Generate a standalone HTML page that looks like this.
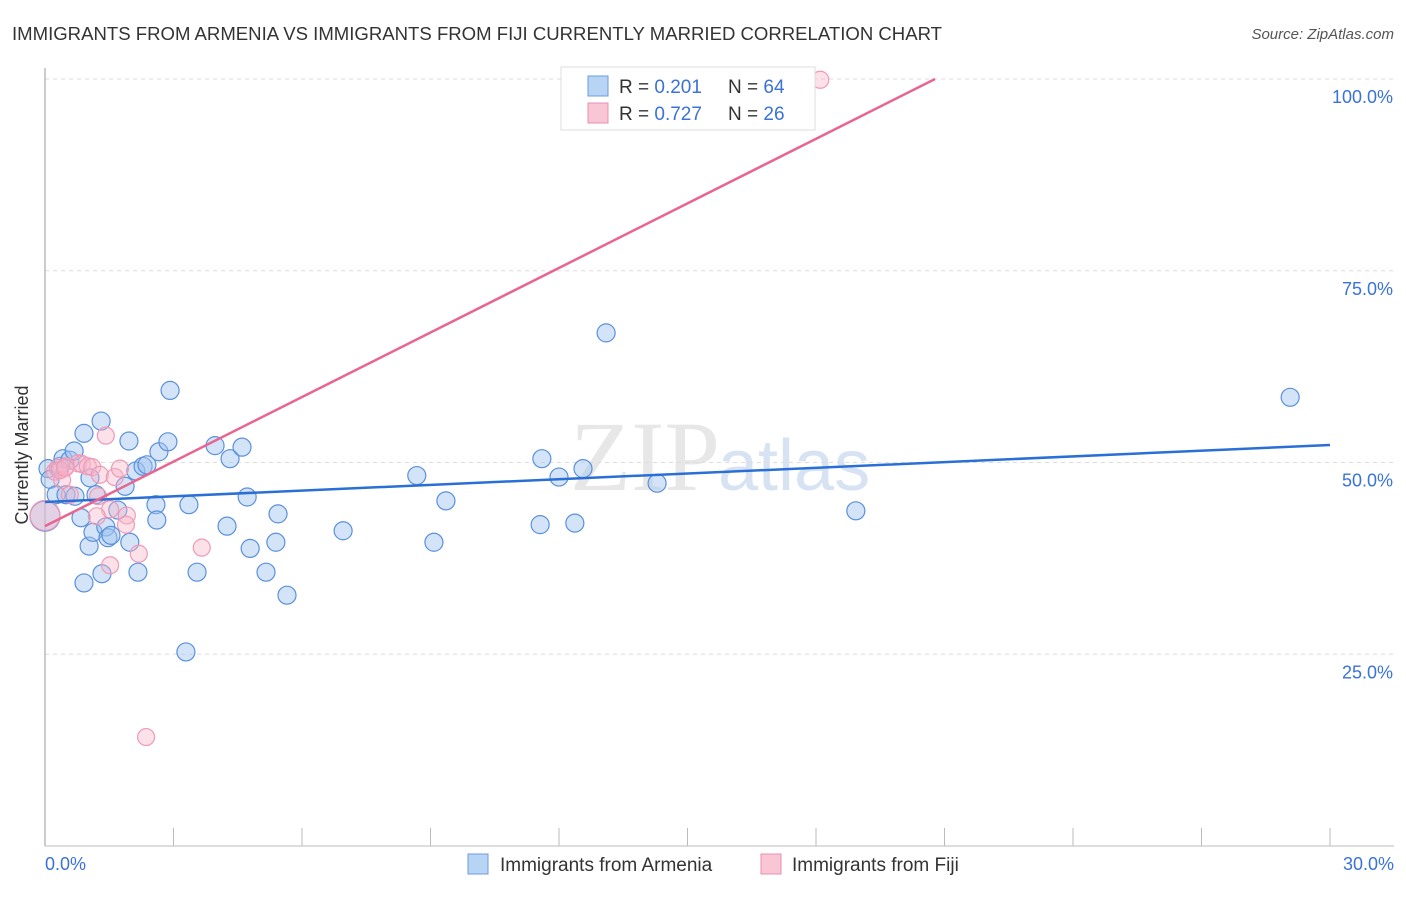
<!DOCTYPE html>
<html><head><meta charset="utf-8"><style>
body{margin:0;background:#fff;font-family:"Liberation Sans",sans-serif;}
</style></head><body>
<svg width="1406" height="892" xmlns="http://www.w3.org/2000/svg">
<text x="12" y="40" font-size="18" fill="#333" textLength="930" lengthAdjust="spacingAndGlyphs">IMMIGRANTS FROM ARMENIA VS IMMIGRANTS FROM FIJI CURRENTLY MARRIED CORRELATION CHART</text>
<text x="1394" y="39" font-size="15" fill="#555" font-style="italic" text-anchor="end">Source: ZipAtlas.com</text>
<text x="720" y="490" font-size="100" fill="#d8d8d8" font-family="Liberation Serif" text-anchor="end" opacity="0.6">ZIP</text>
<text x="718" y="490" font-size="72" fill="#b8cdea" opacity="0.55">atlas</text>
<g id="grid"></g>
<line x1="45" y1="68" x2="45" y2="846" stroke="#bbb" stroke-width="1.5"/>
<line x1="45" y1="846" x2="1394" y2="846" stroke="#bbb" stroke-width="1"/>
<g id="ticks"></g>
<g id="pts"></g>
<g id="lines"></g>
<text x="28" y="455" font-size="18" fill="#333" text-anchor="middle" transform="rotate(-90 28 455)">Currently Married</text>
<text x="45" y="870" font-size="18" fill="#3a72d8">0.0%</text>
<text x="1394" y="870" font-size="18" fill="#3a72d8" text-anchor="end">30.0%</text>
<g>
<rect x="561" y="67" width="254" height="63" fill="#fff" stroke="#ddd"/>
<rect x="588" y="76" width="20" height="20" fill="#b8d4f5" stroke="#6a9de0"/>
<rect x="588" y="103" width="20" height="20" fill="#f9c6d6" stroke="#e890ae"/>
<text x="619" y="93" font-size="19" fill="#333">R = <tspan fill="#3a72d8">0.201</tspan></text>
<text x="728" y="93" font-size="19" fill="#333">N = <tspan fill="#3a72d8">64</tspan></text>
<text x="619" y="120" font-size="19" fill="#333">R = <tspan fill="#3a72d8">0.727</tspan></text>
<text x="728" y="120" font-size="19" fill="#333">N = <tspan fill="#3a72d8">26</tspan></text>
</g>
<g>
<rect x="468" y="854" width="20" height="20" fill="#b8d4f5" stroke="#6a9de0"/>
<text x="500" y="871" font-size="19" fill="#333">Immigrants from Armenia</text>
<rect x="761" y="854" width="20" height="20" fill="#f9c6d6" stroke="#e890ae"/>
<text x="792" y="871" font-size="19" fill="#333">Immigrants from Fiji</text>
</g>
</svg>
<script>
const yTicks=[25,50,75,100];
const xTickCount=10;
const armeniaX=[0.07,0.12,0.26,0.35,0.42,0.49,0.58,0.68,0.7,0.84,0.91,1.03,1.05,1.12,1.19,1.31,1.33,0.91,1.42,1.47,1.54,1.7,1.87,1.96,1.98,2.12,2.17,2.29,2.38,2.59,2.61,2.66,2.87,2.92,3.29,3.36,3.55,3.97,4.25,4.32,4.6,4.72,4.79,5.16,5.39,5.44,5.65,6.96,8.68,9.08,9.36,11.56,11.6,12.0,12.37,12.56,13.1,14.29,18.93,29.07,0.0];
const armeniaY=[49.2,47.8,45.8,49.5,50.5,45.8,50.3,51.5,45.6,42.8,53.8,39.1,48.0,40.9,45.8,55.4,35.5,34.3,41.6,40.2,40.5,43.8,46.9,52.8,39.6,48.9,35.7,49.5,49.7,44.5,42.5,51.4,52.7,59.4,25.3,44.5,35.7,52.2,41.7,50.5,52.0,45.5,38.8,35.7,39.6,43.3,32.7,41.1,48.3,39.6,45.0,41.9,50.5,48.1,42.1,49.2,66.9,47.3,43.7,58.5,43.0];
const fijiX=[18.1,0.23,0.3,0.4,0.49,0.58,0.77,0.86,1.0,1.1,1.24,1.28,1.42,1.52,1.63,1.75,1.91,1.89,2.19,2.36,3.66,1.21,1.52,0.0,0.35,0.47];
const fijiY=[99.9,48.8,49.3,47.7,49.5,45.8,49.9,49.8,49.5,49.4,45.6,48.4,53.5,43.9,48.1,49.2,43.1,41.9,38.1,14.2,38.9,43.0,36.6,43.1,49.0,49.3];
const armeniaLine=[44.85,52.28];
const fijiLine=[41.7,100,20.78];
const X=v=>45+v/30*1285, Y=v=>846-v/100*767;
const NS="http://www.w3.org/2000/svg";
function mk(t,a,p){const e=document.createElementNS(NS,t);for(const k in a)e.setAttribute(k,a[k]);document.getElementById(p).appendChild(e);return e;}
yTicks.forEach(t=>{
 const l=mk('line',{x1:45,x2:1394,y1:Y(t),y2:Y(t),stroke:'#ddd','stroke-dasharray':'4,4'},'grid');
 
 
 const tx=mk('text',{x:1393,y:Y(t)+24,'font-size':18,fill:'#3a72d8','text-anchor':'end'},'grid');
 tx.textContent=t.toFixed(1)+'%';
 
 
});
for(let i=1;i<=xTickCount;i++){
 const l=mk('line',{x1:X(i*3),x2:X(i*3),y1:828,y2:846,stroke:'#bbb'},'ticks');
 
 
}
armeniaX.forEach((x,i)=>{
 const c=mk('circle',{cx:X(x),cy:Y(armeniaY[i]),r:i==armeniaX.length-1?15:9,fill:'rgba(160,195,240,0.45)',stroke:'#5a90dc','stroke-width':1.2},'pts');
 
 
});
fijiX.forEach((x,i)=>{
 const c=mk('circle',{cx:X(x),cy:Y(fijiY[i]),r:i==23?15:8.5,fill:'rgba(248,180,200,0.4)',stroke:'#ee9ab6','stroke-width':1.2},'pts');
 
 
});
const bl=mk('line',{x1:X(0),y1:Y(armeniaLine[0]),x2:X(30),y2:Y(armeniaLine[1]),stroke:'#2a6fd6','stroke-width':2.5},'lines');


const pl=mk('line',{x1:X(0),y1:Y(fijiLine[0]),x2:X(fijiLine[2]),y2:Y(fijiLine[1]),stroke:'#e8658f','stroke-width':2.5},'lines');


</script>
</body></html>
